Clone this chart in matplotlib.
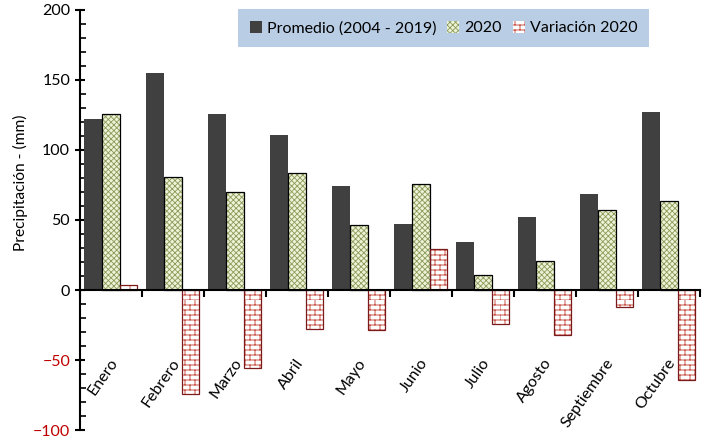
import numpy as np
import matplotlib
matplotlib.use('Agg')
import matplotlib.pyplot as plt
from matplotlib import hatch as mhatch
from matplotlib.path import Path

meses = ['Enero', 'Febrero', 'Marzo', 'Abril', 'Mayo', 'Junio',
         'Julio', 'Agosto', 'Septiembre', 'Octubre']
promedio = [122, 155, 125.7, 110.7, 74.3, 47, 34.3, 52.1, 68.6, 127]
anio_2020 = [126, 81, 69.8, 83.3, 46.2, 76, 10.5, 20.5, 57, 63.3]
variacion = [3.6, -74.5, -56, -27.5, -28.4, 29, -24.3, -32.4, -11.8, -64.5]
y_ticks = [200, 150, 100, 50, 0, -50, -100]


# brick hatch ('b'), not built into matplotlib
class BrickHatch(mhatch.HatchPatternBase):
    def __init__(self, hatch, density):
        self.rows = hatch.count('b') * 10
        self.cols = hatch.count('b') * 5
        self.num_vertices = self.rows * (2 + 2 * self.cols)

    def set_vertices_and_codes(self, vertices, codes):
        h = 1.0 / self.rows
        w = 1.0 / self.cols
        i = 0
        for r in range(self.rows):
            y0 = r * h
            vertices[i] = (0, y0)
            vertices[i + 1] = (1, y0)
            codes[i] = Path.MOVETO
            codes[i + 1] = Path.LINETO
            i += 2
            off = w / 2 if r % 2 else 0
            for c in range(self.cols):
                x = c * w + off
                vertices[i] = (x, y0)
                vertices[i + 1] = (x, y0 + h)
                codes[i] = Path.MOVETO
                codes[i + 1] = Path.LINETO
                i += 2


mhatch._hatch_types.append(BrickHatch)

plt.rcParams['font.family'] = ['Lato', 'DejaVu Sans']
plt.rcParams['font.size'] = 11.5
plt.rcParams['hatch.linewidth'] = 0.6

fig = plt.figure(figsize=(7.07, 4.48), dpi=100)
ax = fig.add_axes([0.113, 0.040, 0.877, 0.938])

x = np.arange(len(meses))
w = 0.285

ax.bar(x - w, promedio, w, color='#404040', label='Promedio (2004 - 2019)', zorder=2)
ax.bar(x, anio_2020, w, color='#eef2d6', edgecolor='#8a9a5a', hatch='xxxxxx',
       linewidth=0, label='2020', zorder=2)
ax.bar(x, anio_2020, w, fill=False, edgecolor='black', linewidth=0.9, zorder=3)
ax.bar(x + w, variacion, w, color='white', edgecolor='#c0392b', hatch='bb',
       linewidth=0, label='Variación 2020', zorder=2)
ax.bar(x + w, variacion, w, fill=False, edgecolor='#7a1a1a', linewidth=0.9, zorder=3)

ax.set_xlim(-0.5, len(meses) - 0.5)
ax.set_ylim(-100, 200)
ax.set_yticks(y_ticks)
ax.set_yticks(np.arange(-100, 201, 10), minor=True)
ax.tick_params(axis='y', which='major', direction='inout', length=7, width=1.5)
ax.tick_params(axis='y', which='minor', direction='in', length=4, width=1.2)
for lab in ax.get_yticklabels():
    if float(lab.get_text().replace('\u2212', '-')) < 0:
        lab.set_color('#c00000')

ax.spines['top'].set_visible(False)
ax.spines['right'].set_visible(False)
ax.spines['left'].set_linewidth(1.5)
ax.spines['bottom'].set_position(('data', 0))
ax.spines['bottom'].set_linewidth(1.5)
ax.spines['bottom'].set_zorder(4)
ax.set_xticks(np.arange(len(meses) + 1) - 0.5)
ax.set_xticklabels([])
ax.tick_params(axis='x', direction='out', length=5, width=1.5)

for i, m in enumerate(meses):
    ax.text(i + 0.06, -50, m, rotation=55, rotation_mode='anchor',
            ha='right', va='center')

ax.set_ylabel('Precipitación - (mm)', fontsize=11.2)
ax.yaxis.set_label_coords(-0.083, 0.588)

leg = ax.legend(loc='upper left', bbox_to_anchor=(238 / 707, 1 - 9 / 448),
                bbox_transform=fig.transFigure, ncol=3, frameon=True,
                fancybox=False, handlelength=0.75, handleheight=0.75,
                handletextpad=0.3, columnspacing=0.7, borderpad=0.75,
                borderaxespad=0)
leg.get_frame().set_facecolor('#b9cde5')
leg.get_frame().set_edgecolor('none')
leg.get_frame().set_alpha(1)

fig.savefig('out.png', dpi=100)
